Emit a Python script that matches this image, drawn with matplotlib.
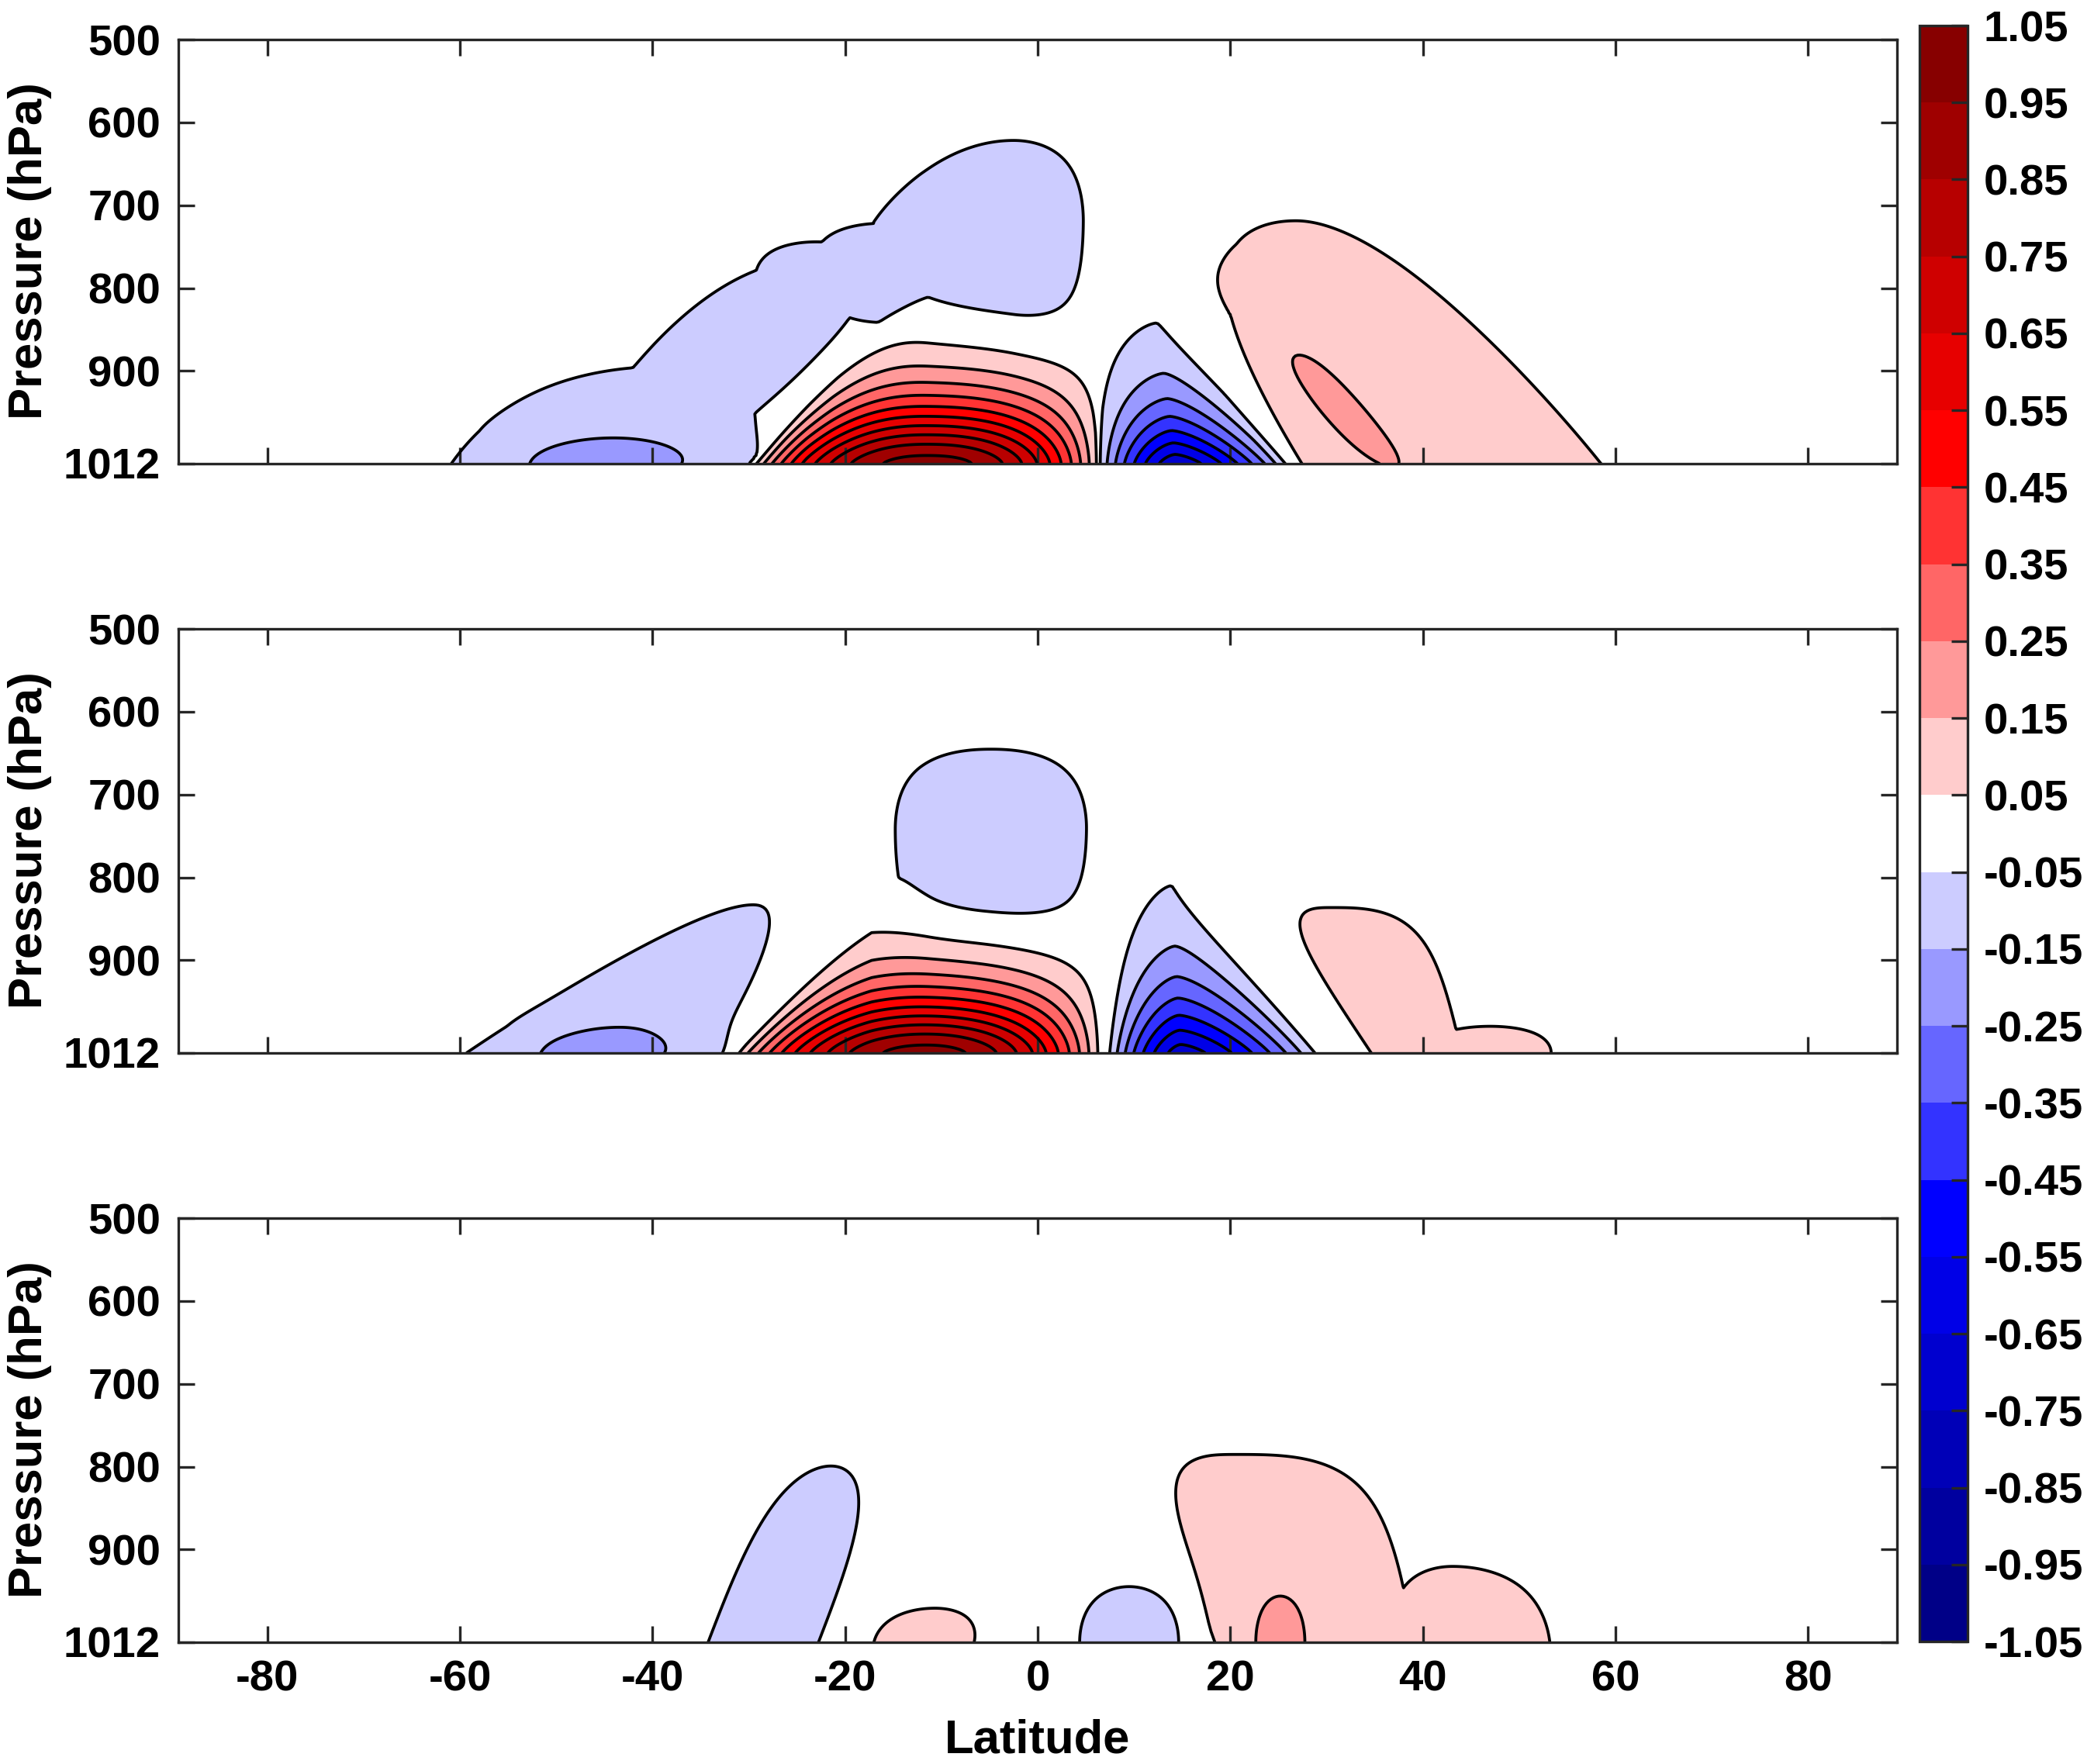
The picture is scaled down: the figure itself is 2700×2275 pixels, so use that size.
import numpy as np
import matplotlib
matplotlib.use("Agg")
import matplotlib.pyplot as plt
from matplotlib.colors import ListedColormap, BoundaryNorm

plt.rcParams['font.family'] = ['Liberation Sans', 'DejaVu Sans']
plt.rcParams['font.weight'] = 'bold'
plt.rcParams['axes.unicode_minus'] = False
plt.rcParams['contour.negative_linestyle'] = 'solid'

# contour levels and fill colours (lowest bin first)
levels = np.round(np.arange(-1.05, 1.06, 0.1), 2)
fill_colors = ['#000087', '#00009f', '#0000b7', '#0000cf', '#0000e7', '#0000ff',
               '#3333ff', '#6666ff', '#9999ff', '#ccccff', '#ffffff',
               '#ffcccc', '#ff9999', '#ff6666', '#ff3333', '#ff0000',
               '#e70000', '#cf0000', '#b70000', '#9f0000', '#870000']

yticks = [500, 600, 700, 800, 900, 1012]
xticks = [-80, -60, -40, -20, 0, 20, 40, 60, 80]

# anomaly cells, one entry per cell:
# panel, centre latitude, centre pressure, peak value, half widths (S/N side),
# narrowing of the widths per 100 hPa upward, flank exponent,
# vertical depths (up/down), vertical exponent, tilt (deg per 100 hPa),
# and whether the cell is added on top of its neighbours (1) or merged (0)
blob_panel = [0, 0, 0, 0, 0, 0, 0, 0, 0, 0,
              1, 1, 1, 1, 1, 1, 1,
              2, 2, 2, 2, 2, 2]
blob_lat = [-11.2, 14.4, 40.0, 30.5, -46.0, -44.0, -31.0, -23.0, -16.0, -2.5,
            -11.3, 14.9, -4.85, -46.0, -45.0, 37.5, 47.0,
            -28.5, -11.5, 9.5, 24.0, 44.0, 25.2]
blob_p = [1012, 1012, 1012, 935, 1012, 1012, 870, 790, 775, 720,
          1012, 1012, 742, 1012, 1012, 1012, 1012,
          1012, 1012, 1012, 1012, 1012, 1012]
blob_amp = [1.0, -0.72, 0.13, 0.09, -0.13, -0.06, -0.13, -0.1, -0.11, -0.12,
            1.0, -0.70, -0.13, -0.13, -0.06, 0.11, 0.09,
            -0.09, 0.08, -0.08, 0.12, 0.1, 0.2]
blob_wl = [18.8, 8.4, 16.0, 3.3, 19.0, 14.0, 11.5, 9.0, 10.0, 19.0,
           20.3, 7.8, 12.4, 17.0, 10.1, 3.5, 10.0,
           8.6, 9.0, 8.4, 6.7, 10.0, 5.1]
blob_wr = [17.8, 12.2, 23.6, 3.3, 18.0, 20.0, 11.5, 9.0, 12.0, 9.5,
           18.0, 14.6, 12.4, 15.3, 14.6, 8.0, 9.5,
           8.6, 8.0, 8.4, 18.0, 13.0, 5.1]
blob_kl = [0.42, 0.12, -0.06, 0.0, 0.0, 0.0, 0.0, 0.0, 0.0, 0.4,
           0.40, 0.15, 0.0, 0.26, 0.0, -0.6, 0.0,
           0.0, 0.0, 0.0, -0.28, 0.0, 0.0]
blob_kr = [0.0, 0.5, 0.13, 0.0, 0.0, 0.0, 0.0, 0.0, 0.0, 0.0,
           0.0, 0.45, 0.0, 0.29, 0.0, -0.3, 0.0,
           0.0, 0.0, 0.0, 0.0, 0.0, 0.0]
blob_n = [2.3, 1.5, 2.0, 2.0, 2.0, 2.0, 2.0, 2.0, 2.0, 2.0,
          2.1, 1.5, 2.2, 2.0, 2.0, 3.0, 2.0,
          2.0, 2.0, 2.0, 3.0, 2.0, 2.0]
blob_sup = [84, 75, 300, 87, 120, 36, 110, 55, 60, 105,
            82, 90, 99, 183, 32.4, 190, 42,
            254, 60, 98, 237, 110, 104]
blob_sdn = [84, 75, 300, 74, 120, 36, 150, 55, 75, 190,
            82, 90, 175, 183, 32.4, 190, 42,
            254, 60, 98, 237, 110, 104]
blob_q = [1.5, 1.2, 2, 2, 2, 2, 2, 2, 2, 2,
          1.5, 1.2, 2, 2, 2, 3, 2,
          3, 2, 2, 3, 2, 2]
blob_tilt = [0, -1.2, -4.5, -7, 6, 0, 8, 0, 0, 0,
             0, -0.5, 0, 9.2, 0, -4, 0,
             3.3, 2, 0, -1.5, -1, 0]
blob_add = [0, 0, 0, 1, 0, 1, 0, 0, 0, 0,
            0, 0, 0, 0, 1, 0, 0,
            0, 0, 0, 0, 0, 0]

lat = np.linspace(-89.25, 89.25, 715)
prs = np.linspace(500, 1012, 257)
LAT, P = np.meshgrid(lat, prs)


def blob(i):
    dz = blob_p[i] - P
    up = np.clip(dz, 0, None)
    centre = blob_lat[i] + blob_tilt[i] * dz / 100.0
    d = LAT - centre
    wl = blob_wl[i] * np.clip(1 - blob_kl[i] * up / 100.0, 0.05, None)
    wr = blob_wr[i] * np.clip(1 - blob_kr[i] * up / 100.0, 0.05, None)
    w = np.where(d < 0, wl, wr)
    h = np.clip(1 - (np.abs(d) / w) ** blob_n[i], 0, None)
    s = np.where(dz >= 0, blob_sup[i], blob_sdn[i])
    g = np.exp(-(np.abs(dz) / s) ** blob_q[i])
    return blob_amp[i] * h * g


def panel_field(k):
    pos = np.zeros_like(LAT)
    neg = np.zeros_like(LAT)
    extra = np.zeros_like(LAT)
    for i in range(len(blob_panel)):
        if blob_panel[i] != k:
            continue
        b = blob(i)
        if blob_add[i]:
            extra += b
        elif blob_amp[i] > 0:
            pos = np.maximum(pos, b)
        else:
            neg = np.minimum(neg, b)
    return pos + neg + extra


cmap = ListedColormap(fill_colors)
norm = BoundaryNorm(levels, cmap.N)

W, H = 2700, 2275
fig = plt.figure(figsize=(9, H / 300), dpi=300)
ax_left = 230 / W
ax_w = 2216 / W
ax_h = 547 / H
tops = [51, 811, 1571]
for k, top in enumerate(tops):
    ax = fig.add_axes([ax_left, 1 - (top + 547) / H, ax_w, ax_h])
    F = panel_field(k)
    cf = ax.contourf(LAT, P, F, levels=levels, cmap=cmap, norm=norm)
    ax.contour(LAT, P, F, levels=levels, colors='k', linewidths=0.9,
               linestyles='solid')
    ax.set_xlim(-89.25, 89.25)
    ax.set_ylim(1012, 500)
    ax.set_yticks(yticks)
    ax.set_xticks(xticks)
    ax.tick_params(direction='in', top=True, right=True, length=5, width=0.8,
                   colors='#262626', labelcolor='black', labelsize=13.5, pad=5.5)
    for sp in ax.spines.values():
        sp.set_linewidth(0.8)
        sp.set_color('#262626')
    if k < 2:
        ax.tick_params(labelbottom=False)
    fig.text(39 / W, 1 - (top + 273) / H, 'Pressure (hPa)', rotation=90,
             ha='center', va='center', fontsize=14.8, fontweight='bold')

fig.text((230 + 1108) / W, 1 - 2245 / H, 'Latitude', ha='center', va='center',
         fontsize=14.8, fontweight='bold')

cax = fig.add_axes([2475 / W, 1 - 2117 / H, 62 / W, 2084 / H])
cb = fig.colorbar(cf, cax=cax, ticks=levels)
cb.ax.set_yticklabels([f'{v:.2f}' for v in levels])
cb.ax.tick_params(direction='in', length=5, width=0.8, colors='#262626',
                  labelcolor='black', labelsize=13.5, pad=5)
cb.outline.set_linewidth(0.8)
cb.outline.set_edgecolor('#262626')

fig.savefig('out.png', dpi=300)
